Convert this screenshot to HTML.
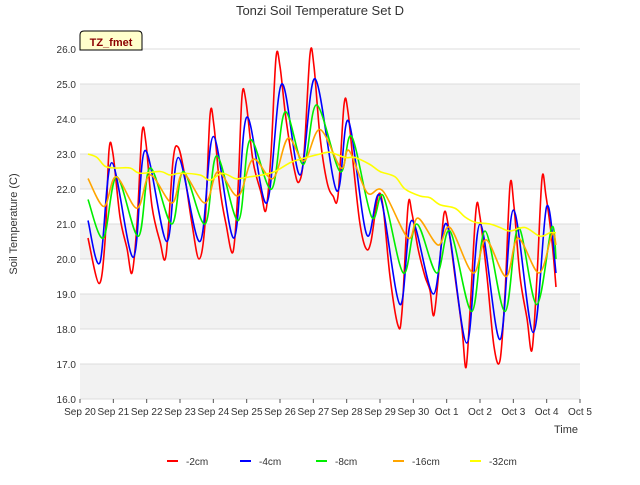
<!DOCTYPE html>
<html><head><meta charset="utf-8"><style>
body{margin:0;background:#fff;font-family:"Liberation Sans",sans-serif}
svg text{font-family:"Liberation Sans",sans-serif}
</style></head><body>
<svg id="c" width="640" height="480" xmlns="http://www.w3.org/2000/svg">
<rect width="640" height="480" fill="#fff"/>
<g id="bands"></g>
<g id="grid"></g>
<g id="series"></g>
<g id="axes"></g>
<text x="320" y="15" text-anchor="middle" font-size="13" fill="#333">Tonzi Soil Temperature Set D</text>
<text transform="translate(17,224) rotate(-90)" text-anchor="middle" font-size="11" fill="#333">Soil Temperature (C)</text>
<text x="566" y="433" text-anchor="middle" font-size="11" fill="#333">Time</text>
<g>
<path d="M80,50 L80,35 Q80,31 84,31 L138,31 Q142,31 142,35 L142,50 Z" fill="#ffffcc" stroke="#000" stroke-width="1"/>
<text x="111" y="46" text-anchor="middle" font-size="11" font-weight="bold" fill="#8b0000">TZ_fmet</text>
</g>
<g id="legend"></g>
</svg>
<script>
const yTicks=[16,17,18,19,20,21,22,23,24,25,26];
const xTickLabels=["Sep 20","Sep 21","Sep 22","Sep 23","Sep 24","Sep 25","Sep 26","Sep 27","Sep 28","Sep 29","Sep 30","Oct 1","Oct 2","Oct 3","Oct 4","Oct 5"];
const seriesNames=["-2cm","-4cm","-8cm","-16cm","-32cm"];
const seriesColors=["#ff0000","#0000ff","#00ee00","#ffa500","#ffff00"];
const t2=[0.24,0.57,0.75,0.87,0.99,1.2,1.41,1.56,1.71,1.86,1.98,2.16,2.4,2.58,2.79,2.94,3.12,3.36,3.57,3.75,3.9,4.02,4.2,4.38,4.59,4.74,4.86,4.98,5.19,5.43,5.58,5.73,5.88,6.0,6.18,6.42,6.57,6.72,6.9,7.02,7.2,7.41,7.59,7.74,7.92,8.04,8.22,8.4,8.58,8.73,8.94,9.09,9.3,9.54,9.66,9.84,9.96,10.14,10.35,10.5,10.62,10.8,10.92,11.04,11.25,11.46,11.58,11.7,11.88,12.0,12.21,12.42,12.6,12.75,12.9,13.02,13.2,13.41,13.56,13.71,13.86,13.98,14.16,14.28];
const v2=[20.6,19.3,20.5,23.1,23.0,21.2,20.3,19.6,21,23.6,23.3,21.5,20.5,20.1,22.8,23.2,22.5,21.0,20.0,21,24.1,23.8,22,21,20.2,22,24.65,24.5,22.8,21.9,21.4,23,25.75,25.5,24,22.6,22.2,23,25.85,25.5,23.5,22.2,21.8,21.8,24.4,24.2,22.5,21,20.3,20.5,21.8,21.5,19.5,18.1,18.5,21.5,21.3,20.3,19.5,19.1,18.4,20,21.3,21,19.5,18,16.9,18.5,21.4,21.2,19.5,17.5,17.1,19,22.1,21.5,19.5,18.3,17.4,19.5,22.3,21.8,20.5,19.2];
const t4=[0.24,0.6,0.95,1.6,1.95,2.6,2.95,3.6,4.0,4.62,5.0,5.6,6.05,6.6,7.05,7.7,8.05,8.6,9.0,9.6,9.95,10.6,11.0,11.6,12.0,12.6,13.0,13.6,14.0,14.28];
const v4=[21.1,19.9,22.75,20.05,23.1,20.5,22.9,20.5,23.5,20.6,24.05,21.6,25.0,22.4,25.15,21.95,23.95,20.7,21.8,18.7,21.1,19.0,21.0,17.6,21.0,17.7,21.4,17.9,21.5,19.6];
const t8=[0.24,0.7,1.1,1.75,2.1,2.75,3.1,3.75,4.1,4.75,5.1,5.75,6.15,6.7,7.1,7.8,8.15,8.75,9.1,9.7,10.1,10.7,11.1,11.75,12.15,12.75,13.15,13.7,14.15,14.28];
const v8=[21.7,20.6,22.35,20.65,22.6,21.0,22.5,21.0,22.95,21.1,23.4,22.0,24.2,22.7,24.4,22.5,23.5,21.2,21.8,19.6,21.0,19.6,20.8,18.5,20.8,18.5,20.9,18.7,20.9,20.0];
const t16=[0.24,0.72,1.08,1.71,2.1,2.76,3.09,3.75,4.14,4.74,5.19,5.79,6.24,6.72,7.2,7.83,8.07,8.61,9.09,9.84,10.14,10.74,11.1,11.79,12.18,12.78,13.14,13.77,14.16,14.28];
const v16=[22.3,21.5,22.35,21.45,22.4,21.6,22.45,21.6,22.5,21.8,22.85,22.3,23.45,22.8,23.7,22.6,23.1,21.9,21.94,20.6,21.17,20.4,20.9,19.6,20.55,19.5,20.6,19.6,20.7,20.4];
const t32=[0.24,0.51,0.75,1.05,1.5,1.8,2.4,2.7,3.0,3.6,3.9,4.26,4.65,4.8,5.1,5.46,5.85,6.3,6.6,7.2,7.5,7.95,8.25,8.7,9.0,9.45,9.75,10.2,10.5,10.8,11.25,11.55,11.85,12.3,12.6,12.9,13.35,13.8,14.1,14.28];
const v32=[23.0,22.9,22.65,22.6,22.6,22.45,22.5,22.4,22.45,22.4,22.25,22.45,22.3,22.3,22.35,22.4,22.5,22.75,22.85,23.0,23.05,22.9,22.9,22.7,22.5,22.35,22.0,21.8,21.75,21.55,21.45,21.2,21.05,21.0,20.9,20.8,20.9,20.65,20.75,20.75];

const X0=80,X1=580,Y0=399,Y1=49;
const xs=d=>X0+d*(X1-X0)/15;
const ys=v=>Y0-(v-16)*(Y0-Y1)/10;
const NS="http://www.w3.org/2000/svg";
function mk(tag,attrs,parent){const e=document.createElementNS(NS,tag);for(const k in attrs)e.setAttribute(k,attrs[k]);parent.appendChild(e);return e;}
const bands=document.getElementById('bands'),grid=document.getElementById('grid'),axes=document.getElementById('axes'),ser=document.getElementById('series'),leg=document.getElementById('legend');
for(let i=0;i<yTicks.length-1;i++){
 if(i%2===0){const r=mk('rect',{x:X0,y:ys(yTicks[i+1]),width:X1-X0,height:ys(yTicks[i])-ys(yTicks[i+1]),fill:'#f2f2f2'},bands);
 
 }
}
yTicks.forEach(v=>{
 const l=mk('line',{x1:X0,x2:X1,y1:ys(v),y2:ys(v),stroke:'#dcdcdc','stroke-width':1},grid);
 
 
 const t=mk('text',{x:X0-4,y:ys(v)+4,'text-anchor':'end','font-size':10,fill:'#333'},axes);
 t.textContent=v.toFixed(1);
 
 
});
xTickLabels.forEach((s,i)=>{
 const tk=mk('line',{x1:xs(i),x2:xs(i),y1:Y0,y2:Y0+4,stroke:'#555'},axes);
 
 
 const t=mk('text',{x:xs(i),y:Y0+16,'text-anchor':'middle','font-size':10,fill:'#333'},axes);
 t.textContent=s;
 
 
});
const data=[[t2,v2],[t4,v4],[t8,v8],[t16,v16],[t32,v32]];
data.forEach(([t,v],k)=>{
 const pts=t.map((d,i)=>[xs(d),ys(v[i])]);
 let p='M'+pts[0][0]+','+pts[0][1];
 for(let i=0;i<pts.length-1;i++){
  const p0=pts[Math.max(0,i-1)],p1=pts[i],p2=pts[i+1],p3=pts[Math.min(pts.length-1,i+2)];
  const c1=[p1[0]+(p2[0]-p0[0])/6,p1[1]+(p2[1]-p0[1])/6],c2=[p2[0]-(p3[0]-p1[0])/6,p2[1]-(p3[1]-p1[1])/6];
  p+=` C${c1[0]},${c1[1]} ${c2[0]},${c2[1]} ${p2[0]},${p2[1]}`;
 }
 const el=mk('path',{d:p,fill:'none',stroke:seriesColors[k],'stroke-width':1.6},ser);
 
 
});
const legX=[167,240,316,393,470];
seriesNames.forEach((n,k)=>{
 const g=mk('g',{},leg);
 
 
 mk('line',{x1:legX[k],x2:legX[k]+11,y1:461,y2:461,stroke:seriesColors[k],'stroke-width':2},g);
 const t=mk('text',{x:legX[k]+19,y:465,'font-size':10,fill:'#333'},g);
 t.textContent=n;
});
</script>
</body></html>
